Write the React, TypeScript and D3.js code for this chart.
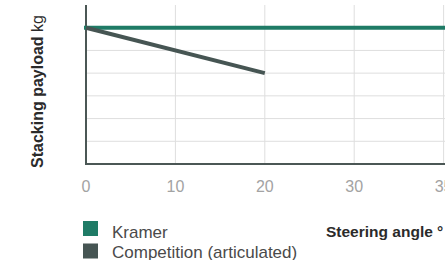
import * as d3 from 'd3'
import { useEffect, useRef } from 'react'

const xCategories = ['0', '10', '20', '30', '35']
const yLevels = [0, 1, 2, 3, 4, 5, 6, 7]
const kramerX = ['0', '10', '20', '30', '35']
const kramerY = [6, 6, 6, 6, 6]
const competitionX = ['0', '20']
const competitionY = [6, 4]
const seriesNames = ['Kramer', 'Competition (articulated)']
const seriesColors = ['#1f7b66', '#465553']

const FONT = '"Liberation Sans", Arial, sans-serif'

export default function App() {
    const svgRef = useRef<SVGSVGElement>(null)

    useEffect(() => {
        const w = 445
        const h = 260
        const svg = d3.select(svgRef.current)
        svg.selectAll('*').remove()
        svg.attr('width', w).attr('height', h)

        const xScale = d3.scalePoint<string>()
                         .domain(xCategories)
                         .range([86, 443.6])

        const yScale = d3.scaleLinear()
                         .domain([0, 7])
                         .range([164, 5])

        // grid
        svg.append('g')
           .selectAll('line')
           .data(yLevels.slice(1, -1))
           .join('line')
           .attr('x1', 86).attr('x2', w)
           .attr('y1', d => yScale(d)).attr('y2', d => yScale(d))
           .attr('stroke', '#dedede').attr('stroke-width', 1)

        svg.append('g')
           .selectAll('line')
           .data(xCategories.slice(1))
           .join('line')
           .attr('x1', d => xScale(d)!).attr('x2', d => xScale(d)!)
           .attr('y1', yScale(7)).attr('y2', yScale(0))
           .attr('stroke', '#dedede').attr('stroke-width', 1)

        // axes
        svg.append('line')
           .attr('x1', 86).attr('x2', 86)
           .attr('y1', yScale(7)).attr('y2', yScale(0) + 1)
           .attr('stroke', '#4b5755').attr('stroke-width', 2)
        svg.append('line')
           .attr('x1', 85).attr('x2', w)
           .attr('y1', yScale(0)).attr('y2', yScale(0))
           .attr('stroke', '#4b5755').attr('stroke-width', 2)

        svg.append('g')
           .selectAll('text')
           .data(xCategories)
           .join('text')
           .attr('x', d => xScale(d)!)
           .attr('y', 192)
           .attr('text-anchor', 'middle')
           .attr('font-family', FONT)
           .attr('font-size', 16)
           .attr('fill', '#a3a3a3')
           .text(d => d)

        const line = d3.line<[string, number]>()
                       .x(d => xScale(d[0])!)
                       .y(d => yScale(d[1]))

        svg.append('path')
           .datum(kramerX.map((x, i) => [x, kramerY[i]] as [string, number]))
           .attr('d', line)
           .attr('fill', 'none')
           .attr('stroke', seriesColors[0])
           .attr('stroke-width', 4)
           .attr('stroke-linecap', 'square')

        svg.append('path')
           .datum(competitionX.map((x, i) => [x, competitionY[i]] as [string, number]))
           .attr('d', line)
           .attr('fill', 'none')
           .attr('stroke', seriesColors[1])
           .attr('stroke-width', 4)

        // y title
        const yt = svg.append('text')
           .attr('transform', 'translate(43, 168) rotate(-90)')
           .attr('font-family', FONT)
           .attr('font-size', 16)
           .attr('fill', '#2b2b2b')
        yt.append('tspan').attr('font-weight', 'bold').text('Stacking payload')
        yt.append('tspan').text(' kg')

        // x title
        svg.append('text')
           .attr('x', 326)
           .attr('y', 237)
           .attr('font-family', FONT)
           .attr('font-size', 15.5)
           .attr('font-weight', 'bold')
           .attr('fill', '#2b2b2b')
           .text('Steering angle °')

        // legend
        const lg = svg.append('g')
        seriesNames.forEach((name, i) => {
            lg.append('rect')
              .attr('x', 83).attr('y', 221 + i * 22.5)
              .attr('width', 15).attr('height', 15)
              .attr('fill', seriesColors[i])
            lg.append('text')
              .attr('x', 112).attr('y', 237.5 + i * 20)
              .attr('font-family', FONT)
              .attr('font-size', 17)
              .attr('fill', '#4a4a4a')
              .text(name)
        })
    }, [])

    return (
        <svg ref={svgRef} style={{ position: 'absolute', left: 0, top: 0, display: 'block' }} />
    )
}
